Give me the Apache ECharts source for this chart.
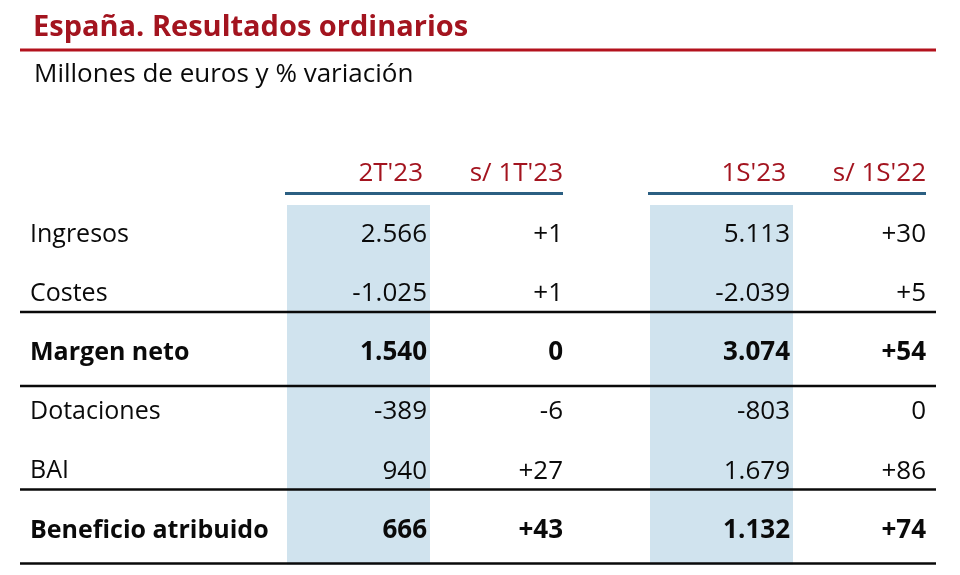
<!DOCTYPE html>
<html>
<head>
<meta charset="utf-8">
<script src="https://cdn.jsdelivr.net/npm/echarts@6/dist/echarts.min.js"></script>
<style>
  html, body { margin: 0; padding: 0; background: #fff; }
  #chart { width: 960px; height: 575px; }
</style>
</head>
<body>
<div id="chart"></div>
<script>
// Datos de la tabla
const rows = ['Ingresos', 'Costes', 'Margen neto', 'Dotaciones', 'BAI', 'Beneficio atribuido'];
const boldRows = ['Margen neto', 'Beneficio atribuido'];
const headersQ = ["2T'23", "s/ 1T'23"];
const headersH = ["1S'23", "s/ 1S'22"];
const value2T23 = [2566, -1025, 1540, -389, 940, 666];
const var1T23 = [1, 1, 0, -6, 27, 43];
const value1S23 = [5113, -2039, 3074, -803, 1679, 1132];
const var1S22 = [30, 5, 54, 0, 86, 74];

const FONT = 'Open Sans';
const RED = '#a3141f';
const BLUE_LINE = '#2b5f82';
const SHADE = '#d0e3ee';
const INK = '#0a0a0a';

// 2566 -> "2.566", -1025 -> "-1.025"
function fmtNum(v) {
  const s = String(Math.abs(v)).replace(/\B(?=(\d{3})+(?!\d))/g, '.');
  return (v < 0 ? '-' : '') + s;
}
function fmtVar(v) {
  return v > 0 ? '+' + v : String(v);
}

const chart = echarts.init(document.getElementById('chart'));

const gridTop = 203;
const gridHeight = 355;

function blockData(values, variations) {
  const out = [];
  rows.forEach((r, i) => {
    out.push([0, i, values[i]]);
    out.push([1, i, variations[i]]);
  });
  return out;
}

function makeBlockRender(headers) {
  return function (params, api) {
    const col = api.value(0);
    const row = api.value(1);
    const val = api.value(2);
    const pt = api.coord([col, row]);
    const size = api.size([1, 1]);
    const bw = size[0];
    const bh = size[1];
    const left = pt[0] - bw / 2;
    const right = pt[0] + bw / 2;
    const bold = boldRows.indexOf(rows[row]) >= 0;
    const children = [];
    if (col === 0 && row === 0) {
      // columna sombreada completa
      const top = pt[1] - bh / 2 + 2;
      const bottom = api.coord([0, rows.length - 1])[1] + 36;
      children.push({
        type: 'rect',
        shape: { x: left, y: top, width: bw, height: bottom - top },
        style: { fill: SHADE }
      });
    }
    const textRight = col === 0 ? right - 3 : right - 10;
    children.push({
      type: 'text',
      style: {
        text: col === 0 ? fmtNum(val) : fmtVar(val),
        x: textRight,
        y: pt[1] + 2,
        align: 'right',
        verticalAlign: 'middle',
        fontFamily: FONT,
        fontSize: 26,
        fontWeight: bold ? 'bold' : 'normal',
        fill: INK
      }
    });
    if (row === 0) {
      children.push({
        type: 'text',
        style: {
          text: headers[col],
          x: col === 0 ? textRight - 4 : textRight,
          y: pt[1] - 59,
          align: 'right',
          verticalAlign: 'middle',
          fontFamily: FONT,
          fontSize: 26,
          fill: RED
        }
      });
      children.push({
        type: 'line',
        shape: {
          x1: col === 0 ? left - 2 : left,
          y1: pt[1] - 39,
          x2: col === 0 ? right : right - 10,
          y2: pt[1] - 39
        },
        style: { stroke: BLUE_LINE, lineWidth: 3 }
      });
    }
    return { type: 'group', children: children };
  };
}

function labelRender(params, api) {
  const row = api.value(0);
  const pt = api.coord([0, row]);
  const size = api.size([1, 1]);
  const left = pt[0] - size[0] / 2;
  const right = pt[0] + size[0] / 2;
  const bold = boldRows.indexOf(rows[row]) >= 0;
  const children = [{
    type: 'text',
    style: {
      text: rows[row],
      x: left + 10,
      y: pt[1] + 2,
      align: 'left',
      verticalAlign: 'middle',
      fontFamily: FONT,
      fontSize: 25,
      fontWeight: bold ? 'bold' : 'normal',
      fill: INK
    }
  }];
  if (bold) {
    [-39, 35].forEach(dy => {
      children.push({
        type: 'line',
        shape: { x1: left, y1: pt[1] + dy, x2: right, y2: pt[1] + dy },
        style: { stroke: INK, lineWidth: 2.5 }
      });
    });
  }
  return { type: 'group', children: children };
}

const hiddenAxis = {
  axisLine: { show: false },
  axisTick: { show: false },
  axisLabel: { show: false },
  splitLine: { show: false }
};

const option = {
  animation: false,
  backgroundColor: '#fff',
  title: [
    {
      text: 'España. Resultados ordinarios',
      left: 28,
      top: 8,
      textStyle: { fontFamily: FONT, fontSize: 29, fontWeight: 'bold', color: RED }
    },
    {
      text: 'Millones de euros y % variación',
      left: 29,
      top: 57,
      textStyle: { fontFamily: FONT, fontSize: 26, fontWeight: 'normal', color: INK }
    }
  ],
  graphic: [{
    type: 'line',
    shape: { x1: 20, y1: 50, x2: 936, y2: 50 },
    style: { stroke: '#b3121d', lineWidth: 3 }
  }],
  grid: [
    { left: 20, width: 916, top: gridTop, height: gridHeight },
    { left: 287, width: 286, top: gridTop, height: gridHeight },
    { left: 650, width: 286, top: gridTop, height: gridHeight }
  ],
  xAxis: [
    Object.assign({ type: 'category', gridIndex: 0, data: ['label'] }, hiddenAxis),
    Object.assign({ type: 'category', gridIndex: 1, data: headersQ }, hiddenAxis),
    Object.assign({ type: 'category', gridIndex: 2, data: headersH }, hiddenAxis)
  ],
  yAxis: [0, 1, 2].map(g => Object.assign({
    type: 'category', gridIndex: g, data: rows, inverse: true
  }, hiddenAxis)),
  series: [
    {
      type: 'custom',
      xAxisIndex: 1,
      yAxisIndex: 1,
      z: 1,
      renderItem: makeBlockRender(headersQ),
      dimensions: ['col', 'row', 'value'],
      data: blockData(value2T23, var1T23)
    },
    {
      type: 'custom',
      xAxisIndex: 2,
      yAxisIndex: 2,
      z: 1,
      renderItem: makeBlockRender(headersH),
      dimensions: ['col', 'row', 'value'],
      data: blockData(value1S23, var1S22)
    },
    {
      type: 'custom',
      xAxisIndex: 0,
      yAxisIndex: 0,
      z: 3,
      renderItem: labelRender,
      data: rows.map((r, i) => [i])
    }
  ]
};

chart.setOption(option);
</script>
</body>
</html>
